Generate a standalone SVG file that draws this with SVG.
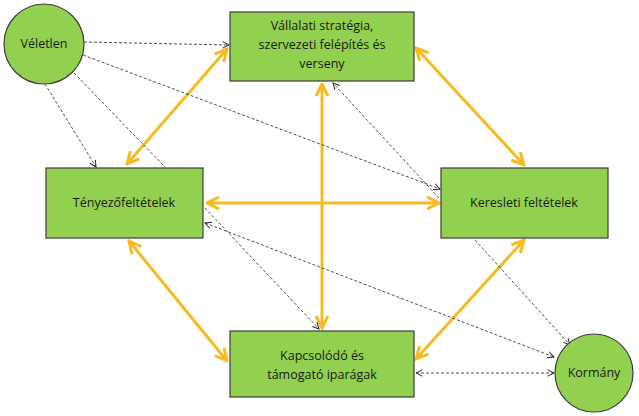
<svg xmlns="http://www.w3.org/2000/svg" width="639" height="416" viewBox="0 0 639 416">
<defs>
<style>
.n{fill:#92d050;stroke:#3c3c3c;stroke-width:1.2}
.t{font-family:"Open Sans","Liberation Sans",sans-serif;font-size:12.5px;fill:#1a1a1a;text-anchor:middle}
.o{stroke:#f5bb21;stroke-width:3;fill:none;marker-start:url(#oa);marker-end:url(#oa)}
.d{stroke:#222;stroke-width:0.8;stroke-dasharray:3 2;fill:none}
</style>
<marker id="oa" viewBox="0 0 10 10" refX="9" refY="5" markerWidth="5" markerHeight="5" orient="auto-start-reverse" markerUnits="strokeWidth"><path d="M1,1 L9,5 L1,9" fill="none" stroke="#f5bb21" stroke-width="2"/></marker>
<marker id="da" viewBox="0 0 10 10" refX="9" refY="5" markerWidth="8" markerHeight="8" orient="auto-start-reverse" markerUnits="userSpaceOnUse"><path d="M1,1 L9,5 L1,9" fill="none" stroke="#222" stroke-width="1.2"/></marker>
</defs>
<rect width="639" height="416" fill="#fff"/>
<g id="connectors">
<line class="o" x1="127" y1="164" x2="227" y2="49"/>
<line class="o" x1="416" y1="48" x2="524" y2="165"/>
<line class="o" x1="207" y1="203" x2="439" y2="203"/>
<line class="o" x1="322" y1="84" x2="322" y2="328"/>
<line class="o" x1="129" y1="241" x2="227" y2="361"/>
<line class="o" x1="416" y1="359" x2="524" y2="240"/>
<line class="d" x1="84" y1="42" x2="229" y2="45" marker-end="url(#da)"/>
<line class="d" x1="83" y1="55" x2="440" y2="189" marker-end="url(#da)"/>
<line class="d" x1="45" y1="84" x2="96" y2="167" marker-end="url(#da)"/>
<line class="d" x1="74" y1="73" x2="165" y2="167"/>
<line class="d" x1="439" y1="198" x2="333" y2="83" marker-end="url(#da)"/>
<line class="d" x1="205" y1="208" x2="319" y2="329" marker-end="url(#da)"/>
<line class="d" x1="205" y1="223" x2="554" y2="357" marker-start="url(#da)" marker-end="url(#da)"/>
<line class="d" x1="475" y1="240" x2="570" y2="345" marker-end="url(#da)"/>
<line class="d" x1="416" y1="373" x2="554" y2="373" marker-start="url(#da)" marker-end="url(#da)"/>
</g>
<g id="veletlen"><circle class="n" cx="44" cy="44" r="40"/><text class="t" x="44" y="48">Véletlen</text></g>
<g id="vallalati"><rect class="n" x="230" y="12" width="184" height="69"/>
<text class="t" x="322" y="30">Vállalati stratégia,</text><text class="t" x="322" y="49">szervezeti felépítés és</text><text class="t" x="322" y="68">verseny</text></g>
<g id="tenyezo"><rect class="n" x="46" y="168" width="157" height="70"/><text class="t" x="124" y="207">Tényezőfeltételek</text></g>
<g id="keresleti"><rect class="n" x="441" y="168" width="167" height="70"/><text class="t" x="524" y="207">Keresleti feltételek</text></g>
<g id="kapcsolodo"><rect class="n" x="230" y="331" width="184" height="66"/>
<text class="t" x="322" y="360">Kapcsolódó és</text><text class="t" x="322" y="379">támogató iparágak</text></g>
<g id="kormany"><circle class="n" cx="594" cy="373" r="39"/><text class="t" x="594" y="377">Kormány</text></g>
</svg>
